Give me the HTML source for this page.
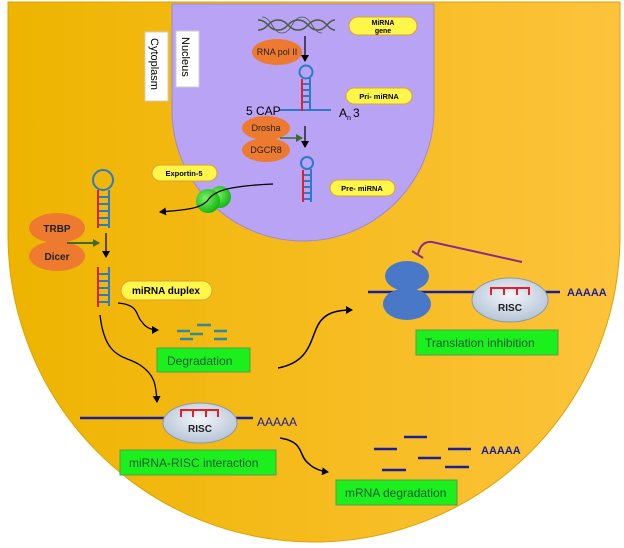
<!DOCTYPE html>
<html><head><meta charset="utf-8"><style>
html,body{margin:0;padding:0;background:#fff}
svg{display:block}
text{font-family:"Liberation Sans",sans-serif}
</style></head><body>
<svg width="624" height="548" viewBox="0 0 624 548" xmlns="http://www.w3.org/2000/svg">
<defs>
<linearGradient id="cy" x1="0" x2="1" y1="0" y2="0"><stop offset="0" stop-color="#eeb400"/><stop offset="1" stop-color="#fdc33c"/></linearGradient>
<radialGradient id="ri" cx="0.5" cy="0.4" r="0.6"><stop offset="0" stop-color="#f2f6fb"/><stop offset="1" stop-color="#b5c4d6"/></radialGradient>
<radialGradient id="gr" cx="0.4" cy="0.4" r="0.6"><stop offset="0" stop-color="#7ef06a"/><stop offset="1" stop-color="#16b814"/></radialGradient>
<marker id="ah" markerWidth="8" markerHeight="8" refX="6" refY="4" orient="auto" markerUnits="userSpaceOnUse"><path d="M0,0 L7,4 L0,8 Z" fill="#000"/></marker>
<marker id="ag" markerWidth="8" markerHeight="8" refX="6" refY="4" orient="auto" markerUnits="userSpaceOnUse"><path d="M0,0 L7,4 L0,8 Z" fill="#3f6a2c"/></marker>
</defs>
<path d="M8,2 L620,2 L620,235 A306,307 0 0 1 8,235 Z" fill="url(#cy)" stroke="#d9a400" stroke-width="1"/>
<path d="M172,4 L434,4 L434,110 A131,131 0 0 1 172,110 Z" fill="#b9a3f4" stroke="#9c88d8"/>
<rect x="145" y="32" width="23" height="69" fill="#fff" stroke="#ccc"/>
<text transform="translate(151,38) rotate(90)" font-size="11">Cytoplasm</text>
<rect x="176" y="31" width="23" height="56" fill="#fff" stroke="#ccc"/>
<text transform="translate(182,37) rotate(90)" font-size="11">Nucleus</text>
<g fill="none" stroke="#4a5c4a" stroke-width="1.5">
<path d="M258,20 C268,20 268,30 278,30 C288,30 288,20 298,20 C308,20 308,30 318,30 C326,30 328,20 335,20"/>
<path d="M258,30 C268,30 268,20 278,20 C288,20 288,30 298,30 C308,30 308,20 318,20 C326,20 328,30 335,30"/>
<path d="M262,17 C272,17 272,33 282,33 C292,33 292,17 302,17 C312,17 312,33 322,33" stroke-width="0.8"/>
</g>
<rect x="349" y="17" width="68" height="18" rx="9" fill="#fff64a" stroke="#e0a030"/>
<text x="383" y="25" font-size="7" font-weight="bold" text-anchor="middle">MiRNA</text>
<text x="383" y="33" font-size="7" font-weight="bold" text-anchor="middle">gene</text>
<ellipse cx="277" cy="52" rx="25" ry="13" fill="#ee7a30"/>
<text x="277" y="55" font-size="9" text-anchor="middle" fill="#222">RNA pol II</text>
<line x1="305" y1="36" x2="305" y2="61" stroke="#000" stroke-width="1.2" marker-end="url(#ah)"/>
<g stroke="#2b7bc8" stroke-width="2" fill="none">
<circle cx="306" cy="72" r="6.5"/>
<line x1="310" y1="78" x2="310" y2="110"/>
<line x1="279" y1="110" x2="331" y2="110"/>
<line x1="302" y1="84" x2="310" y2="84"/><line x1="302" y1="90" x2="310" y2="90"/><line x1="302" y1="96" x2="310" y2="96"/><line x1="302" y1="102" x2="310" y2="102"/>
</g>
<line x1="302" y1="79" x2="302" y2="111" stroke="#e2202a" stroke-width="2"/>
<rect x="346" y="88" width="66" height="16" rx="8" fill="#fff64a" stroke="#e0a030"/>
<text x="379" y="99" font-size="7.5" font-weight="bold" text-anchor="middle">Pri- miRNA</text>
<text x="246" y="115" font-size="12">5 CAP</text>
<text x="339" y="117" font-size="12">A</text><text x="347" y="120" font-size="7">n</text><text x="353" y="117" font-size="12">3</text>
<ellipse cx="266" cy="128" rx="24" ry="12" fill="#ee7a30"/>
<text x="266" y="131" font-size="9" text-anchor="middle" fill="#222">Drosha</text>
<ellipse cx="266" cy="150" rx="24" ry="12" fill="#ee7a30"/>
<text x="266" y="153" font-size="9" text-anchor="middle" fill="#222">DGCR8</text>
<line x1="280" y1="138" x2="302" y2="138" stroke="#3f6a2c" stroke-width="1.5" marker-end="url(#ag)"/>
<line x1="305" y1="126" x2="305" y2="147" stroke="#000" stroke-width="1.2" marker-end="url(#ah)"/>
<g stroke="#2b7bc8" stroke-width="2" fill="none">
<circle cx="307" cy="163" r="6"/>
<line x1="311" y1="169" x2="311" y2="202"/>
<line x1="303" y1="175" x2="311" y2="175"/><line x1="303" y1="181" x2="311" y2="181"/><line x1="303" y1="187" x2="311" y2="187"/><line x1="303" y1="193" x2="311" y2="193"/><line x1="303" y1="199" x2="311" y2="199"/>
</g>
<line x1="303" y1="170" x2="303" y2="202" stroke="#e2202a" stroke-width="2"/>
<rect x="330" y="180" width="65" height="16" rx="8" fill="#fff64a" stroke="#e0a030"/>
<text x="362" y="191" font-size="7.5" font-weight="bold" text-anchor="middle">Pre- miRNA</text>
<rect x="152" y="165" width="65" height="16" rx="8" fill="#fff64a" stroke="#e0a030"/>
<text x="184" y="176" font-size="7.5" font-weight="bold" text-anchor="middle">Exportin-5</text>
<circle cx="220" cy="197" r="11" fill="url(#gr)"/>
<circle cx="208" cy="201" r="12" fill="url(#gr)"/>
<path d="M273,184 C230,186 215,190 208,200 C200,210 180,210 160,212" fill="none" stroke="#000" stroke-width="1.3" marker-end="url(#ah)"/>
<g stroke="#2b7bc8" stroke-width="2" fill="none">
<circle cx="103" cy="180" r="10"/>
<line x1="109" y1="190" x2="109" y2="228"/>
<line x1="98" y1="197" x2="109" y2="197"/><line x1="98" y1="204" x2="109" y2="204"/><line x1="98" y1="211" x2="109" y2="211"/><line x1="98" y1="218" x2="109" y2="218"/><line x1="98" y1="225" x2="109" y2="225"/>
<line x1="109" y1="267" x2="109" y2="306"/>
<line x1="98" y1="274" x2="109" y2="274"/><line x1="98" y1="281" x2="109" y2="281"/><line x1="98" y1="288" x2="109" y2="288"/><line x1="98" y1="295" x2="109" y2="295"/><line x1="98" y1="302" x2="109" y2="302"/>
</g>
<line x1="98" y1="190" x2="98" y2="228" stroke="#e2202a" stroke-width="2"/>
<line x1="98" y1="267" x2="98" y2="307" stroke="#e2202a" stroke-width="2"/>
<ellipse cx="57" cy="228" rx="28" ry="15" fill="#ee7a30"/>
<text x="57" y="232" font-size="10" font-weight="bold" text-anchor="middle" fill="#222">TRBP</text>
<ellipse cx="57" cy="256" rx="28" ry="15" fill="#ee7a30"/>
<text x="57" y="260" font-size="10" font-weight="bold" text-anchor="middle" fill="#222">Dicer</text>
<line x1="67" y1="243" x2="99" y2="243" stroke="#3f6a2c" stroke-width="2" marker-end="url(#ag)"/>
<line x1="106" y1="233" x2="106" y2="257" stroke="#000" stroke-width="1.2" marker-end="url(#ah)"/>
<rect x="121" y="281" width="91" height="19" rx="9.5" fill="#fff64a" stroke="#e0a030"/>
<text x="166" y="294" font-size="10" font-weight="bold" text-anchor="middle">miRNA duplex</text>
<path d="M118,303 C140,305 135,315 142,322 C146,328 152,330 158,330" fill="none" stroke="#000" stroke-width="1.3" marker-end="url(#ah)"/>
<g stroke="#2f8a9a" stroke-width="2.5">
<line x1="177" y1="331" x2="190" y2="331"/><line x1="197" y1="325" x2="211" y2="325"/><line x1="214" y1="331" x2="227" y2="331"/>
<line x1="180" y1="339" x2="193" y2="339"/><line x1="190" y1="334" x2="203" y2="334"/><line x1="214" y1="339" x2="227" y2="339"/>
</g>
<rect x="157" y="348" width="93" height="24" fill="#1cf01c" stroke="#5a9a4a"/>
<text x="167" y="365" font-size="12" fill="#1d5a3a">Degradation</text>
<path d="M100,315 C105,360 125,355 140,365 C155,375 156,385 157,402" fill="none" stroke="#000" stroke-width="1.3" marker-end="url(#ah)"/>
<line x1="80" y1="418" x2="165" y2="418" stroke="#1a1f9a" stroke-width="2.5"/>
<line x1="236" y1="418" x2="253" y2="418" stroke="#1a1f9a" stroke-width="2.5"/>
<ellipse cx="200" cy="423" rx="37" ry="20" fill="url(#ri)" stroke="#8a99aa"/>
<path d="M181,417 V410 H218 V417 M193,410 V417 M206,410 V417" fill="none" stroke="#e2202a" stroke-width="2"/>
<text x="200" y="432" font-size="10" font-weight="bold" text-anchor="middle" fill="#222">RISC</text>
<text x="257" y="426" font-size="12" fill="#1a1f9a">AAAAA</text>
<rect x="120" y="450" width="156" height="25" fill="#1cf01c" stroke="#5a9a4a"/>
<text x="129" y="467" font-size="12" fill="#1d5a3a">miRNA-RISC interaction</text>
<path d="M278,368 C310,362 310,340 318,325 C325,312 338,310 352,310" fill="none" stroke="#000" stroke-width="1.5" marker-end="url(#ah)"/>
<path d="M280,438 C305,442 298,455 308,463 C313,468 320,471 328,472" fill="none" stroke="#000" stroke-width="1.5" marker-end="url(#ah)"/>
<line x1="368" y1="292" x2="560" y2="292" stroke="#1a1f9a" stroke-width="2.5"/>
<ellipse cx="407" cy="276" rx="22" ry="15" fill="#4a78c8"/>
<ellipse cx="407" cy="304" rx="24" ry="16" fill="#4a78c8"/>
<ellipse cx="510" cy="300" rx="38" ry="22" fill="url(#ri)" stroke="#8a99aa"/>
<path d="M491,295 V288 H529 V295 M504,288 V295 M517,288 V295" fill="none" stroke="#e2202a" stroke-width="2"/>
<text x="510" y="311" font-size="10" font-weight="bold" text-anchor="middle" fill="#222">RISC</text>
<text x="567" y="296" font-size="11" font-weight="bold" fill="#1a1f9a">AAAAA</text>
<path d="M522,262 L432,242 Q421,241 418,254" fill="none" stroke="#8a2a8a" stroke-width="2"/>
<line x1="412" y1="251" x2="423" y2="258" stroke="#8a2a8a" stroke-width="2"/>
<rect x="416" y="330" width="142" height="25" fill="#1cf01c" stroke="#5a9a4a"/>
<text x="425" y="347" font-size="12" fill="#1d5a3a">Translation inhibition</text>
<g stroke="#1a1f9a" stroke-width="2.5">
<line x1="404" y1="437" x2="427" y2="437"/><line x1="374" y1="449" x2="397" y2="449"/><line x1="448" y1="449" x2="471" y2="449"/>
<line x1="418" y1="458" x2="441" y2="458"/><line x1="382" y1="470" x2="406" y2="470"/><line x1="445" y1="467" x2="469" y2="467"/>
</g>
<text x="481" y="454" font-size="11" font-weight="bold" fill="#1a1f9a">AAAAA</text>
<rect x="336" y="480" width="121" height="25" fill="#1cf01c" stroke="#5a9a4a"/>
<text x="345" y="497" font-size="12" fill="#1d5a3a">mRNA degradation</text>
</svg>
</body></html>
